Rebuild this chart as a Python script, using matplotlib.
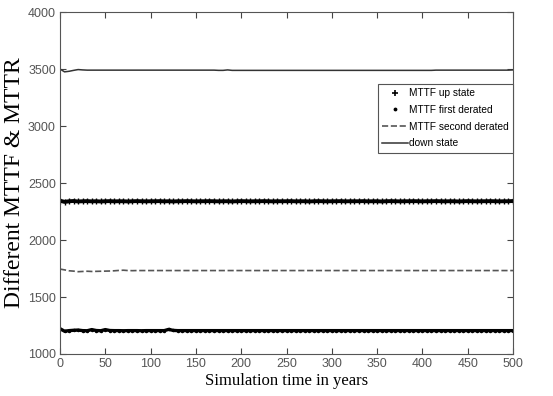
import matplotlib
matplotlib.use('Agg')
import matplotlib.pyplot as plt
from matplotlib.lines import Line2D

# simulation time (years), sampled every 5 years
years = list(range(0, 505, 5))

# MTTF up state
up_state = [2345, 2335, 2340, 2342, 2338, 2340, 2341, 2339, 2340, 2338,
            2340, 2341, 2339, 2340, 2340, 2338, 2340, 2341, 2340, 2339,
            2340, 2340, 2341, 2339, 2340, 2338, 2340, 2340, 2341, 2340,
            2339, 2340, 2340, 2341, 2340, 2339, 2340, 2340, 2338, 2340,
            2341, 2340, 2339, 2340, 2340, 2341, 2340, 2339, 2340, 2340,
            2340, 2341, 2339, 2340, 2340, 2338, 2340, 2341, 2340, 2339,
            2340, 2340, 2341, 2339, 2340, 2340, 2340, 2341, 2339, 2340,
            2340, 2338, 2340, 2341, 2340, 2339, 2340, 2340, 2341, 2340,
            2339, 2340, 2340, 2341, 2340, 2339, 2340, 2340, 2338, 2340,
            2341, 2340, 2339, 2340, 2340, 2341, 2340, 2339, 2340, 2340,
            2342]

# MTTF first derated
first_derated = [1222, 1200, 1205, 1208, 1210, 1205, 1204, 1214, 1206, 1204,
                 1214, 1206, 1205, 1205, 1204, 1205, 1205, 1205, 1204, 1205,
                 1205, 1205, 1205, 1205, 1216, 1207, 1205, 1205, 1205, 1205,
                 1205, 1205, 1205, 1205, 1205, 1205, 1205, 1205, 1205, 1205,
                 1205, 1205, 1205, 1205, 1205, 1205, 1205, 1205, 1205, 1205,
                 1205, 1205, 1205, 1205, 1205, 1205, 1205, 1205, 1205, 1205,
                 1205, 1205, 1205, 1205, 1205, 1205, 1205, 1205, 1205, 1205,
                 1205, 1205, 1205, 1205, 1205, 1205, 1205, 1205, 1205, 1205,
                 1205, 1205, 1205, 1205, 1205, 1205, 1205, 1205, 1205, 1205,
                 1205, 1205, 1205, 1205, 1205, 1205, 1205, 1205, 1205, 1205,
                 1205]

# MTTF second derated
second_derated = [1745, 1738, 1730, 1727, 1722, 1724, 1726, 1724, 1725, 1726,
                  1727, 1728, 1730, 1733, 1735, 1732, 1731, 1732, 1732, 1732,
                  1732, 1732, 1732, 1732, 1732, 1732, 1732, 1732, 1732, 1732,
                  1732, 1732, 1732, 1732, 1732, 1732, 1732, 1732, 1732, 1732,
                  1732, 1732, 1732, 1732, 1732, 1732, 1732, 1732, 1732, 1732,
                  1732, 1732, 1732, 1732, 1732, 1732, 1732, 1732, 1732, 1732,
                  1732, 1732, 1732, 1732, 1732, 1732, 1732, 1732, 1732, 1732,
                  1732, 1732, 1732, 1732, 1732, 1732, 1732, 1732, 1732, 1732,
                  1732, 1732, 1732, 1732, 1732, 1732, 1732, 1732, 1732, 1732,
                  1732, 1732, 1732, 1732, 1732, 1732, 1732, 1732, 1732, 1732,
                  1732]

# down state
down_state = [3500, 3475, 3480, 3488, 3495, 3492, 3490, 3490, 3490, 3490,
              3490, 3490, 3490, 3490, 3490, 3490, 3490, 3490, 3490, 3490,
              3490, 3490, 3490, 3490, 3490, 3490, 3490, 3490, 3490, 3490,
              3490, 3490, 3490, 3490, 3490, 3488, 3488, 3492, 3488, 3488,
              3488, 3488, 3488, 3488, 3488, 3488, 3488, 3488, 3488, 3488,
              3488, 3488, 3488, 3488, 3488, 3488, 3488, 3488, 3488, 3488,
              3488, 3488, 3488, 3488, 3488, 3488, 3488, 3488, 3488, 3488,
              3488, 3488, 3488, 3488, 3488, 3488, 3488, 3488, 3488, 3488,
              3488, 3488, 3488, 3490, 3490, 3490, 3490, 3490, 3490, 3490,
              3490, 3490, 3490, 3490, 3490, 3490, 3490, 3490, 3490, 3490,
              3492]

sans = 'Liberation Sans'

fig = plt.figure(figsize=(5.53, 3.96), dpi=100)
ax = fig.add_axes([60 / 553, 1 - 354 / 396, 453 / 553, 342 / 396])

ax.plot(years, up_state, color='black', lw=2.8, marker='+', ms=4, mew=1.0,
        label='MTTF up state')
ax.plot(years, first_derated, color='black', lw=2.4, marker='.', ms=3,
        label='MTTF first derated')
ax.plot(years, second_derated, color='#555555', lw=1.2, ls='--',
        label='MTTF second derated')
ax.plot(years, down_state, color='#333333', lw=1.1, label='down state')

ax.set_xlim(0, 500)
ax.set_ylim(1000, 4000)
ax.set_xticks(range(0, 550, 50))
ax.set_yticks(range(1000, 4500, 500))
ax.tick_params(direction='in', top=True, right=True, length=4, pad=3,
               labelsize=9, colors='#444444', labelcolor='#555555')
for lbl in ax.get_xticklabels() + ax.get_yticklabels():
    lbl.set_fontfamily(sans)
for sp in ax.spines.values():
    sp.set_color('#555555')

ax.set_xlabel('Simulation time in years', family='Liberation Serif',
              fontsize=12, labelpad=2)
ax.set_ylabel('Different MTTF & MTTR', family='Liberation Serif',
              fontsize=17, labelpad=2)

# legend uses plain markers for the first two entries
h, l = ax.get_legend_handles_labels()
handles = [Line2D([], [], color='black', ls='none', marker='+', ms=5, mew=1.2),
           Line2D([], [], color='black', ls='none', marker='.', ms=3.5),
           h[2], h[3]]
leg = ax.legend(handles, l, loc='upper right', bbox_to_anchor=(1.0, 0.79),
                borderaxespad=0, fancybox=False, framealpha=1,
                edgecolor='#555555', prop={'family': sans, 'size': 7.3},
                handlelength=2.5, handletextpad=0.1, labelspacing=0.65,
                borderpad=0.45)
leg.get_frame().set_linewidth(0.8)

fig.savefig('out.png', dpi=100)
